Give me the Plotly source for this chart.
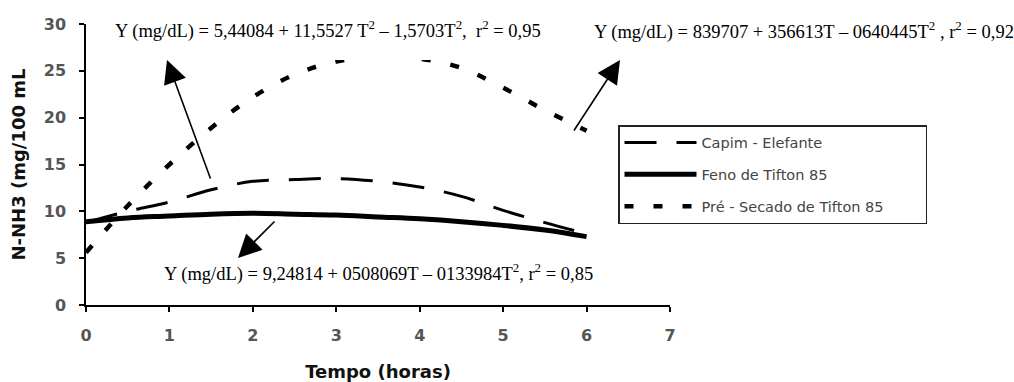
import plotly.graph_objects as go

# Data
tempo = [0, 0.5, 1, 1.5, 2, 2.5, 3, 3.5, 4, 4.5, 5, 5.5, 6]
capim_elefante = [8.8, 10.0, 11.0, 12.3, 13.2, 13.4, 13.5, 13.2, 12.6, 11.6, 10.1, 8.8, 7.6]
feno_tifton = [8.9, 9.3, 9.5, 9.7, 9.8, 9.7, 9.6, 9.4, 9.2, 8.9, 8.5, 8.0, 7.3]
pre_secado = [5.6, 10.6, 15.0, 18.9, 22.2, 24.6, 26.0, 26.5, 26.3, 25.3, 23.2, 20.8, 18.6]

series_names = ["Capim - Elefante", "Feno de Tifton 85", "Pré - Secado de Tifton 85"]
x_ticks = [0, 1, 2, 3, 4, 5, 6, 7]
y_ticks = [0, 5, 10, 15, 20, 25, 30]

eq_texts = [
    "Y (mg/dL) = 5,44084 + 11,5527 T<sup>2</sup> – 1,5703T<sup>2</sup>,  r<sup>2</sup> = 0,95",
    "Y (mg/dL) = 839707 + 356613T – 0640445T<sup>2</sup> , r<sup>2</sup> = 0,92",
    "Y (mg/dL) = 9,24814 + 0508069T – 0133984T<sup>2</sup>, r<sup>2</sup> = 0,85",
]

fig = go.Figure()
fig.add_trace(go.Scatter(x=tempo, y=capim_elefante, mode="lines", name=series_names[0],
                         legendgroup="a",
                         line=dict(color="black", width=3, dash="32px,20px", shape="spline")))
fig.add_trace(go.Scatter(x=tempo, y=feno_tifton, mode="lines", name=series_names[1],
                         legendgroup="b",
                         line=dict(color="black", width=5, shape="spline")))
fig.add_trace(go.Scatter(x=tempo, y=pre_secado, mode="lines", name=series_names[2] + "\u00a0" * 8,
                         legendgroup="c",
                         line=dict(color="black", width=4.5, dash="9px,20px", shape="spline")))

W, H = 1014, 382
# plot area in window pixels: x 86..670, y 24..305
L, T = 86, 24
R = W - 670
B = H - 305
pw, ph = W - L - R, H - T - B

def px(xp):
    return (xp - L) / pw

def py(yp):
    return (H - B - yp) / ph

# white box behind the top-left equation (hides part of the curve as in reference)
fig.add_shape(type="rect", xref="paper", yref="paper",
              x0=px(110), x1=px(545), y0=py(60), y1=1.0,
              fillcolor="white", line=dict(width=0), layer="above")

ann_font = dict(family="Liberation Serif, Times New Roman, serif", size=18.5, color="black")
annotations = [
    dict(text=eq_texts[0], xref="paper", yref="paper", x=px(113), y=py(29),
         xanchor="left", yanchor="middle", showarrow=False, font=ann_font),
    dict(text=eq_texts[1], xref="paper", yref="paper", x=px(592), y=py(30),
         xanchor="left", yanchor="middle", showarrow=False, font=ann_font),
    dict(text=eq_texts[2], xref="paper", yref="paper", x=px(162), y=py(272),
         xanchor="left", yanchor="middle", showarrow=False, font=ann_font),
]
arrows = [((167, 60), (211, 180)), ((620, 60), (573, 132)), ((238, 258), (276, 220))]
for (tx, ty), (sx, sy) in arrows:
    annotations.append(dict(text="", xref="paper", yref="paper", x=px(tx), y=py(ty),
                            ax=sx - tx, ay=sy - ty, axref="pixel", ayref="pixel",
                            showarrow=True, arrowhead=2, arrowsize=2.9, arrowwidth=1.6,
                            arrowcolor="black", standoff=0))

tick_font = dict(family="DejaVu Sans", size=16, color="#555555", weight="bold")
title_font = dict(family="DejaVu Sans", size=18, color="#111111", weight="bold")

fig.update_layout(
    width=W, height=H,
    margin=dict(l=L, r=R, t=T, b=B, pad=0),
    paper_bgcolor="white", plot_bgcolor="white",
    annotations=annotations,
    showlegend=True,
    legend=dict(x=px(618), y=py(125), xanchor="left", yanchor="top",
                bordercolor="#222222", borderwidth=1.5, bgcolor="white",
                font=dict(family="DejaVu Sans", size=14.5, color="#444444"),
                itemwidth=72, tracegroupgap=10),
    xaxis=dict(range=[0, 7], tickvals=x_ticks, ticks="outside", ticklen=5, tickwidth=1.5,
               tickcolor="black", showline=True, linecolor="black", linewidth=1.5,
               showgrid=False, zeroline=False, tickfont=tick_font, ticklabelstandoff=10,
               automargin=False,
               title=dict(text="Tempo (horas)", font=title_font, standoff=21)),
    yaxis=dict(range=[0, 30], tickvals=y_ticks, ticks="outside", ticklen=5, tickwidth=1.5,
               tickcolor="black", showline=True, linecolor="black", linewidth=1.5,
               showgrid=False, zeroline=False, tickfont=tick_font, ticklabelstandoff=10,
               automargin=False,
               title=dict(text="N-NH3 (mg/100 mL", font=title_font, standoff=13)),
)

# remove the default 8px page margin so the figure fills the window exactly
fig.write_html("out.html", config={"displayModeBar": False},
               post_script="document.body.style.margin='0';document.body.style.overflow='hidden';")
